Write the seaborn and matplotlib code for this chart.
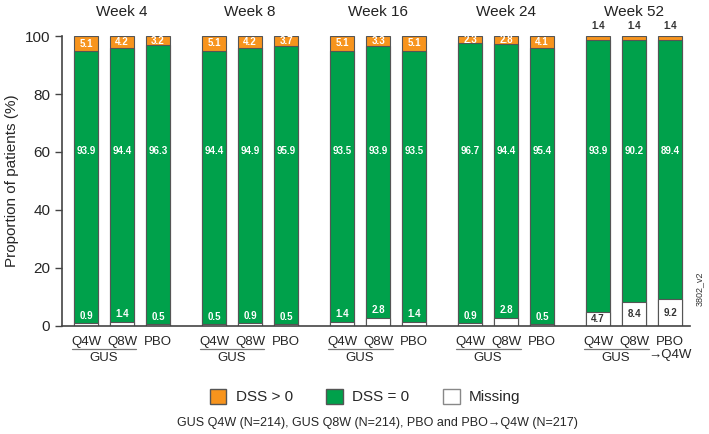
import pandas as pd
import numpy as np
import matplotlib.pyplot as plt
import seaborn as sns
from matplotlib.patches import Patch
import matplotlib.transforms as mtransforms

weeks = ['Week 4', 'Week 8', 'Week 16', 'Week 24', 'Week 52']
arms = ['Q4W', 'Q8W', 'PBO']
dss_pos = [5.1, 4.2, 3.2, 5.1, 4.2, 3.7, 5.1, 3.3, 5.1, 2.3, 2.8, 4.1, 1.4, 1.4, 1.4]
dss_zero = [93.9, 94.4, 96.3, 94.4, 94.9, 95.9, 93.5, 93.9, 93.5, 96.7, 94.4, 95.4, 93.9, 90.2, 89.4]
missing = [0.9, 1.4, 0.5, 0.5, 0.9, 0.5, 1.4, 2.8, 1.4, 0.9, 2.8, 0.5, 4.7, 8.4, 9.2]

orange = '#F7941D'
green = '#00A14B'
edge = '#555555'

sns.set_style('ticks')
plt.rcParams['font.family'] = ['Liberation Sans', 'DejaVu Sans']

group_gap = 128 / 36
pos = [g * group_gap + i for g in range(len(weeks)) for i in range(len(arms))]

df = pd.DataFrame({
    'pos': pos,
    'week': np.repeat(weeks, len(arms)),
    'arm': arms * len(weeks),
    'dss_pos': dss_pos,
    'dss_zero': dss_zero,
    'missing': missing,
})
df['low'] = df['missing']
df['mid'] = df['missing'] + df['dss_zero']
df['top'] = df['mid'] + df['dss_pos']

fig = plt.figure(figsize=(7.09, 4.34), dpi=100)
ax = fig.add_axes([0.0875, 0.249, 0.886, 0.668])

w = 0.667
sns.barplot(data=df, x='pos', y='top', native_scale=True, width=w, color=orange,
            edgecolor=edge, linewidth=0.8, errorbar=None, ax=ax, saturation=1)
sns.barplot(data=df, x='pos', y='mid', native_scale=True, width=w, color=green,
            edgecolor=edge, linewidth=0.8, errorbar=None, ax=ax, saturation=1)
sns.barplot(data=df, x='pos', y='low', native_scale=True, width=w, color='white',
            edgecolor=edge, linewidth=0.8, errorbar=None, ax=ax, saturation=1)

# value labels
for _, r in df.iterrows():
    lab = dict(ha='center', va='center', fontsize=7, fontweight='bold')
    if r['week'] == 'Week 52':
        ax.text(r['pos'], r['top'] + 3.5, f"{r['dss_pos']:.1f}", color='#333333', clip_on=False, **lab)
        ax.text(r['pos'], r['low'] / 2, f"{r['missing']:.1f}", color='#333333', **lab)
    else:
        ax.text(r['pos'], r['mid'] + r['dss_pos'] / 2, f"{r['dss_pos']:.1f}", color='white', **lab)
        ax.text(r['pos'], r['low'] + 2.6, f"{r['missing']:.1f}", color='white', **lab)
    ax.text(r['pos'], 60.5, f"{r['dss_zero']:.1f}", color='white', **lab)

ax.set_ylim(0, 100)
ax.set_xlim(-0.667, pos[-1] + 0.556)
ax.set_yticks([0, 20, 40, 60, 80, 100])
ax.tick_params(axis='y', labelsize=11, length=5, width=1, color='#444444')
ax.tick_params(axis='x', length=0, labelsize=9.5, pad=7)
ticklabels = [a for a in arms] * len(weeks)
ticklabels[-1] = 'PBO\n\u2192Q4W'
ax.set_xticks(pos, ticklabels)
ax.set_xlabel('')
ax.set_ylabel('Proportion of patients (%)', fontsize=11)
sns.despine(ax=ax)
for s in ['left', 'bottom']:
    ax.spines[s].set_color('#444444')
    ax.spines[s].set_linewidth(1.2)

trans = mtransforms.blended_transform_factory(ax.transData, ax.transAxes)
for g, wk in enumerate(weeks):
    p0 = pos[g * 3]
    p1 = pos[g * 3 + 1]
    ax.text(pos[g * 3 + 1], 1.083, wk, transform=trans, ha='center', va='center', fontsize=11, color='#222222')
    ax.plot([p0 - 0.4, p1 + 0.4], [-0.079, -0.079], transform=trans, color='#777777', lw=0.9, clip_on=False)
    ax.text((p0 + p1) / 2, -0.112, 'GUS', transform=trans, ha='center', va='center', fontsize=9.5)

fig.text(0.987, 0.335, '3802_v2', rotation=90, fontsize=6.5, ha='center', va='center', color='#333333')

handles = [Patch(facecolor=orange, edgecolor=edge, label='DSS > 0'),
           Patch(facecolor=green, edgecolor=edge, label='DSS = 0'),
           Patch(facecolor='white', edgecolor='#888888', label='Missing')]
fig.legend(handles=handles, loc='center', bbox_to_anchor=(0.515, 0.086), ncol=3, frameon=False,
           fontsize=11, handlelength=1.1, handleheight=1.1, columnspacing=2.2, handletextpad=0.6)
fig.text(0.533, 0.026, 'GUS Q4W (N=214), GUS Q8W (N=214), PBO and PBO\u2192Q4W (N=217)',
         ha='center', va='center', fontsize=9)

fig.savefig('out.png', dpi=100)
